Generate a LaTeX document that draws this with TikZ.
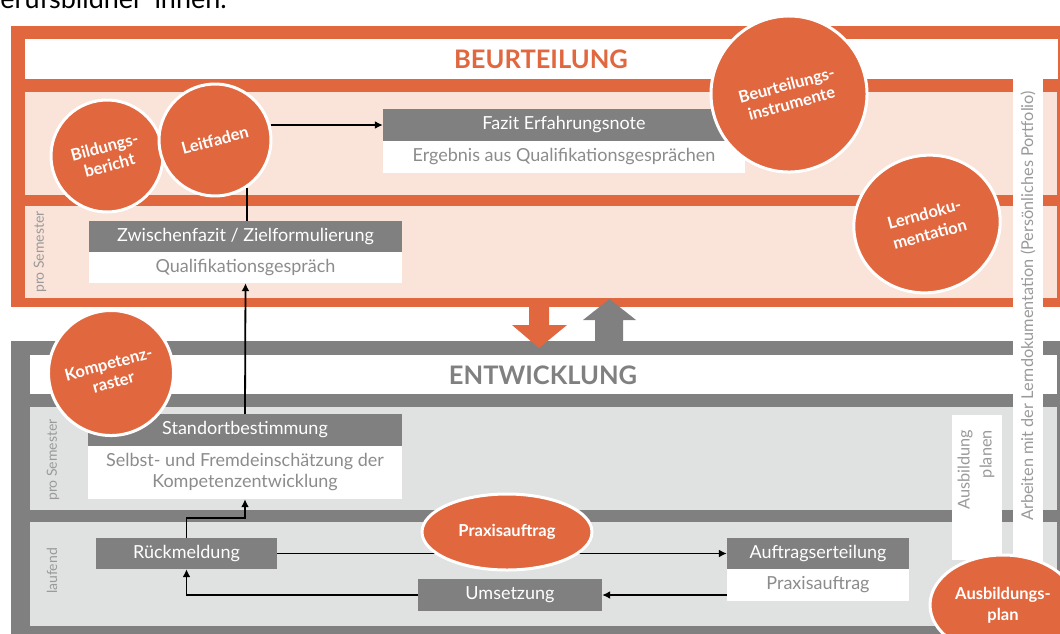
\documentclass[tikz,border=0pt]{standalone}
\usepackage{fontspec}
\setmainfont{Lato}
\usetikzlibrary{shapes.geometric,arrows.meta}
\definecolor{org}{HTML}{E1673F}
\definecolor{peach}{HTML}{FAE3D8}
\definecolor{gframe}{HTML}{808080}
\definecolor{lgray}{HTML}{E0E1E1}
\definecolor{txtgray}{HTML}{8C8C8C}
\definecolor{vgray}{HTML}{9A9A9A}
\tikzset{
  hdr/.style={fill=gframe, text=white, inner sep=0pt, font=\fontsize{18}{20}\selectfont},
  sub/.style={fill=white, text=txtgray, inner sep=0pt, font=\fontsize{18}{21}\selectfont, align=center},
  circ/.style={circle, fill=org, draw=white, line width=3pt, text=white, inner sep=0pt, align=center, font=\bfseries\fontsize{16.5}{19}\selectfont},
  ell/.style={ellipse, fill=org, draw=white, line width=3pt, text=white, inner sep=0pt, align=center, font=\bfseries\fontsize{16.5}{21}\selectfont},
  vlab/.style={rotate=90, text=vgray, inner sep=0pt, font=\fontsize{14}{16}\selectfont},
  ttl/.style={font=\bfseries\fontsize{25.5}{26}\selectfont, inner sep=0pt},
  ln/.style={draw=black, line width=1.8pt},
  arr/.style={ln, -{Latex[length=8pt,width=8pt]}}
}
\begin{document}
\begin{tikzpicture}[x=1pt,y=-1pt]
\useasboundingbox (0,0) rectangle (1060,633);
\begin{scope}
\clip (0,0) rectangle (1060,633);
% cut-off heading fragment
\node[anchor=base west, inner sep=0pt, font=\fontsize{27}{29}\selectfont] (frag) at (-17,8) {Berufsbildner*innen.};
% frames
\fill[org] (11,26) rectangle (1065,307);
\fill[white] (25,39) rectangle (1058,79);
\fill[peach] (25,92) rectangle (1057,195);
\fill[peach] (25,206) rectangle (1057,298);
\fill[gframe] (11,341) rectangle (1065,640);
\fill[white] (30,355) rectangle (1057,394);
\fill[lgray] (30,407) rectangle (1057,510);
\fill[lgray] (30,522) rectangle (1057,626);
\fill[white] (1013,79) rectangle (1043,640);
\fill[white] (952,415) rectangle (1002,560);
% big arrows
\fill[org] (529,300) -- (549,300) -- (549,325) -- (567,325) -- (539,348) -- (512,325) -- (529,325) -- cycle;
\fill[gframe] (595,342) -- (595,320) -- (583,320) -- (609.5,299) -- (636,320) -- (623,320) -- (623,342) -- cycle;
% titles
\node[ttl, text=org] (t1) at (541,59) {BEURTEILUNG};
\node[ttl, text=gframe] (t2) at (543,375) {ENTWICKLUNG};
% vertical labels
\node[vlab] (ps1) at (40,252) {pro Semester};
\node[vlab] (ps2) at (53,460) {pro Semester};
\node[vlab] (lf) at (52,571) {laufend};
\node[vlab, font=\fontsize{16.3}{18}\selectfont] (arb) at (1028,306) {Arbeiten mit der Lerndokumentation (Persönliches Portfolio)};
\node[vlab, font=\fontsize{16.3}{22}\selectfont, align=right] (ap) at (976,470) {Ausbildung\\planen};
% boxes
\node[hdr, minimum width=362, minimum height=32] (fzh) at (564,125) {Fazit Erfahrungsnote};
\node[sub, minimum width=362, minimum height=32] (fzs) at (564,157) {Ergebnis aus Qualifikationsgesprächen};
\node[hdr, minimum width=313, minimum height=31] (zwh) at (245.5,236.5) {Zwischenfazit / Zielformulierung};
\node[sub, minimum width=313, minimum height=31] (zws) at (245.5,267.5) {Qualifikationsgespräch};
\node[hdr, minimum width=314, minimum height=32] (sth) at (245,430) {Standortbestimmung};
\node[sub, minimum width=314, minimum height=53] (sts) at (245,472.5) {Selbst- und Fremdeinschätzung der\\Kompetenzentwicklung};
\node[hdr, minimum width=181, minimum height=31] (rk) at (186.5,553.5) {Rückmeldung};
\node[hdr, minimum width=184, minimum height=32] (um) at (510,595) {Umsetzung};
\node[hdr, minimum width=182, minimum height=31] (auh) at (818,553.5) {Auftragserteilung};
\node[sub, minimum width=182, minimum height=32] (aus) at (818,585) {Praxisauftrag};
% circles (first the ones under connectors)
\node[circ, minimum size=112, rotate=15] (bb) at (107,156) {Bildungs-\\bericht};
\node[circ, minimum size=112, rotate=15] (leit) at (215,140) {Leitfaden};
% connectors
\draw[arr] (leit.east |- fzh.west) -- (fzh.west);
\draw[ln] (leit.-71) -- (leit.-71 |- zwh.north);
\draw[arr] (sth.north) -- (zws.south);
\draw[arr] (rk.north) -- ++(0,-20) -| (sts.south);
\draw[arr] (rk.east) -- (auh.west);
\draw[arr] (aus.west |- um.east) -- (um.east);
\draw[arr] (um.west) -| (rk.south);
% circles on top
\node[circ, minimum size=156, rotate=15] (bi) at (789,94) {Beurteilungs-\\instrumente};
\node[ell, minimum width=147, minimum height=137, rotate=15] (ld) at (927,224) {Lerndoku-\\mentation};
\node[circ, minimum size=125, rotate=15] (kr) at (111,373) {Kompetenz-\\raster};
\node[ell, minimum width=170, minimum height=76] (pa) at (507,532) {Praxisauftrag};
\node[ell, minimum width=146, minimum height=100] (abp) at (1003,605) {Ausbildungs-\\plan};
\end{scope}
\end{tikzpicture}
\end{document}
